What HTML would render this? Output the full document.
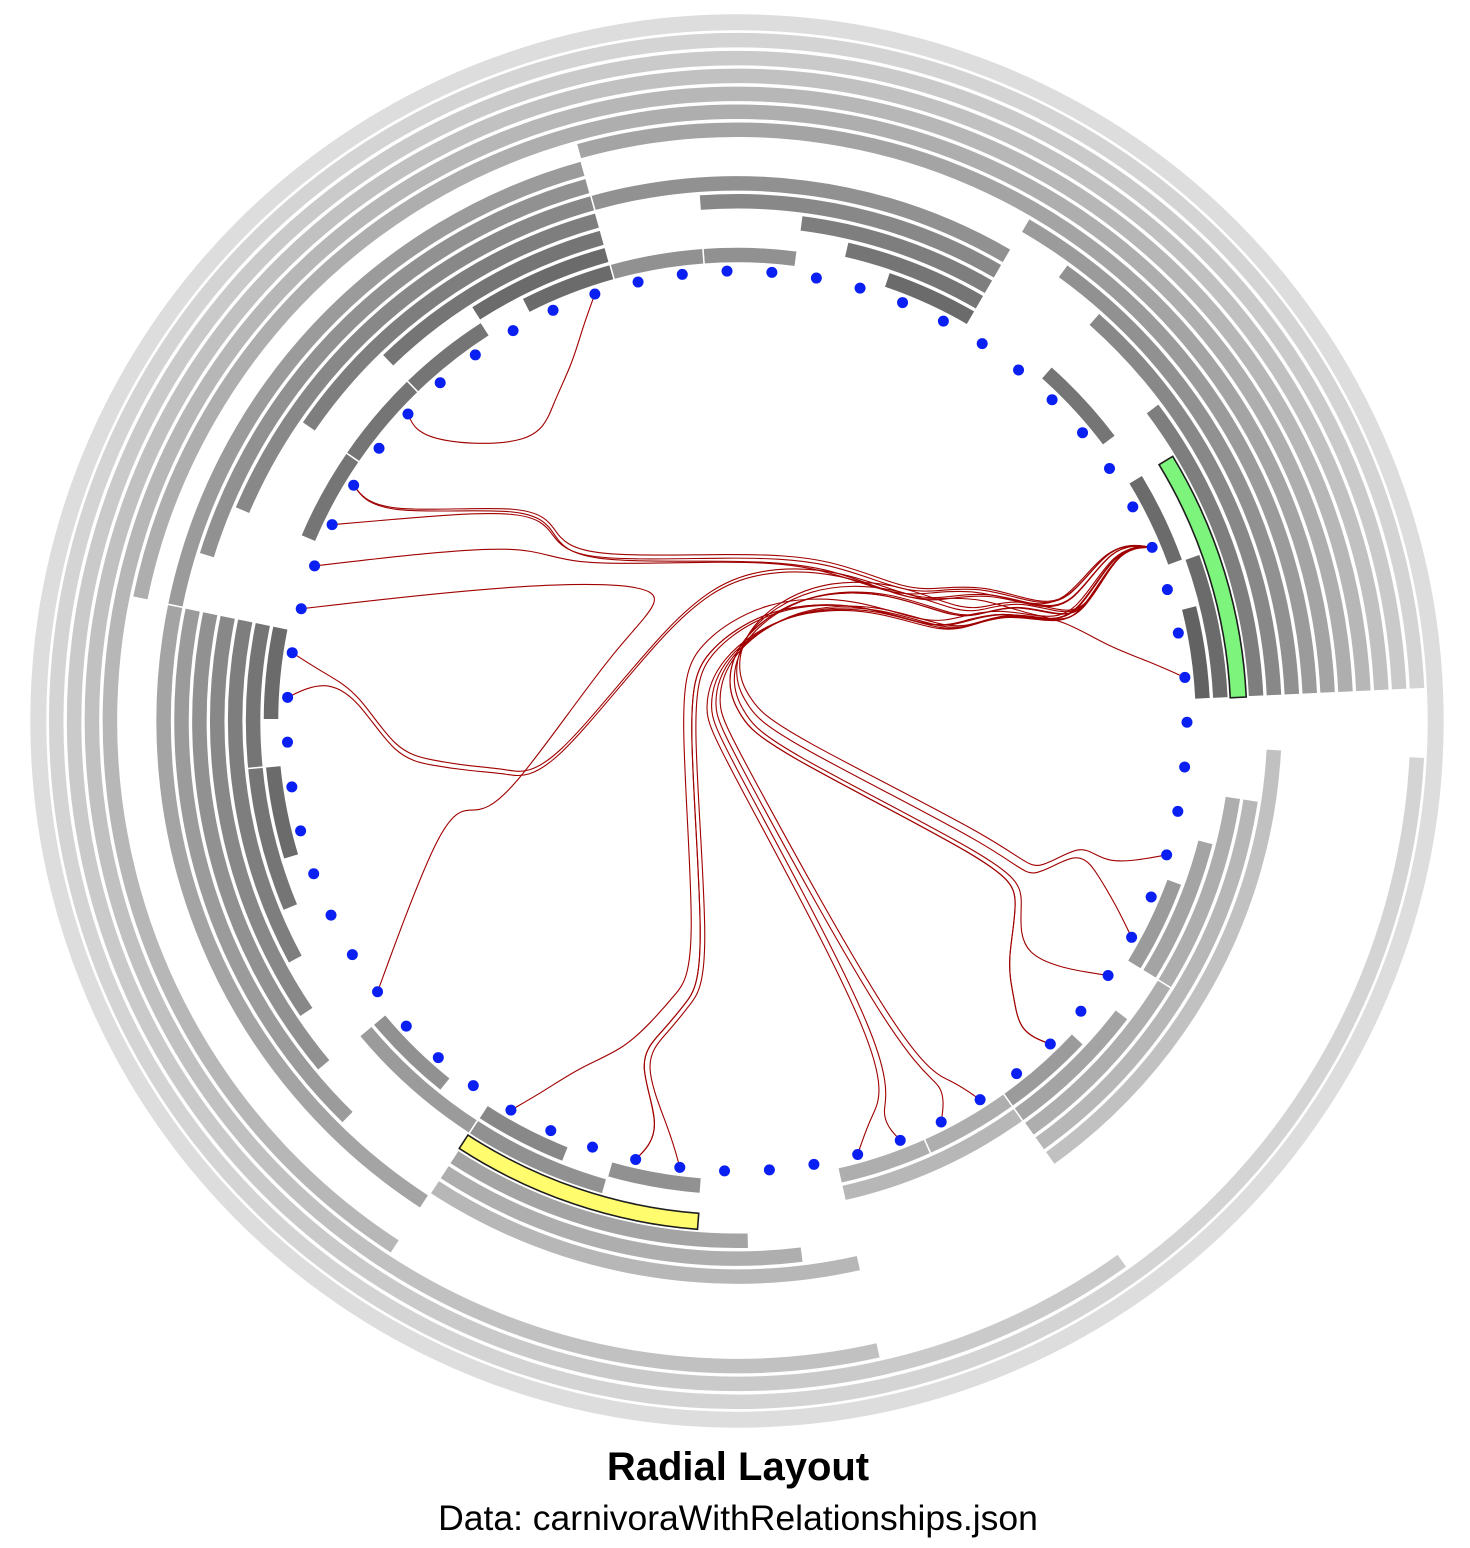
<!DOCTYPE html>
<html>
<head>
<meta charset="utf-8">
<style>
  html, body { margin: 0; padding: 0; background: #ffffff; }
  svg { display: block; }
  text { font-family: "Liberation Sans", Arial, sans-serif; }
</style>
</head>
<body>
<svg id="chart" width="1470" height="1548" viewBox="0 0 1470 1548" xmlns="http://www.w3.org/2000/svg">
  <g id="bands"></g>
  <g id="links"></g>
  <g id="dots"></g>
  <text x="738" y="1480" text-anchor="middle" font-size="40" font-weight="bold" fill="#000">Radial Layout</text>
  <text x="738" y="1530" text-anchor="middle" font-size="35.5" fill="#000">Data: carnivoraWithRelationships.json</text>
</svg>
<script>
// ---- data ----
const leafCount = 63;
// band rows: level (0 = innermost ring), first leaf, last leaf, tree depth
const bandLevels = [13,12,11,10,9,8,7, 6,5,4,3,2,1,0,0,0, 4,3,2,1,0,0,0, 6,5,4,3,2,1,0,0,0,0, 6,5,4,3,2,1,1,0,0, 5,4,3,2,1,0,0,1,0, 4,3,2,2,1,0,1,0,1,0,0];
const bandStarts = [0,17,26,30,38,50,61, 6,7,8,10,11,13,14,11,8, 61,0,2,3,4,0,61, 50,51,52,54,56,58,59,56,54,52, 38,40,41,42,43,47,44,48,45, 30,31,32,33,35,36,33,38,39, 17,18,22,18,19,20,23,24,26,26,28];
const bandEnds = [62,78,78,78,78,78,78, 15,15,15,15,15,15,15,12,9, 68,5,5,5,5,1,62, 60,60,60,60,60,60,60,57,55,53, 49,49,49,49,49,49,46,49,46, 37,37,37,37,37,37,34,40,40, 25,25,25,21,21,21,25,25,29,27,29];
const bandDepths = [0,1,2,3,4,5,6, 7,8,9,10,11,12,13,12,11, 8,9,10,11,12,8,8, 7,8,9,10,11,12,12,11,11,11, 6,7,8,9,10,11,11,12,12, 4,5,6,7,8,9,8,7,8, 3,4,5,5,6,7,6,7,4,5,5];
// selected nodes (index into band rows)
const selectedGreen = [11];
const selectedYellow = [45];
// relationships between leaves
const linkSources = [60,53,53,52,51,50,49,48,12,12,12,12,12,12,12,12,12,12,12,12,12];
const linkTargets = [55,12,15,12,12,41,12,12,37,34,34,33,29,28,27,26,19,21,22,24,24];

// ---- layout ----
const NS = "http://www.w3.org/2000/svg";
const cx = 737, cy = 721;
const dotR = 450;
const ringInner = 458, ringStep = 17.9, ringThick = 16;
const step = 360 / leafCount;
const angleOffset = -1.27;
const beta = 0.85;

function leafAngle(i) { return angleOffset + i * step; }
function boundary(i) { return angleOffset + (i - 0.5) * step; }
function pt(r, a) {
  const t = a * Math.PI / 180;
  return [cx + r * Math.sin(t), cy - r * Math.cos(t)];
}
function sector(r0, r1, a0, a1) {
  const large = (a1 - a0) > 180 ? 1 : 0;
  const p1 = pt(r1, a0), p2 = pt(r1, a1), p3 = pt(r0, a1), p4 = pt(r0, a0);
  return `M${p1[0]},${p1[1]} A${r1},${r1} 0 ${large} 1 ${p2[0]},${p2[1]} L${p3[0]},${p3[1]} A${r0},${r0} 0 ${large} 0 ${p4[0]},${p4[1]} Z`;
}
function grayFor(depth) {
  const g = Math.round(221 - 9.5 * depth);
  return `rgb(${g},${g},${g})`;
}

const bandG = document.getElementById('bands');
for (let k = 0; k < bandLevels.length; k++) {
  const lvl = bandLevels[k];
  const r0 = ringInner + ringStep * lvl, r1 = r0 + ringThick;
  const a0 = boundary(bandStarts[k]), a1 = boundary(bandEnds[k] + 1);
  let fill = grayFor(bandDepths[k]), stroke = '#ffffff', sw = 1.5;
  let name = 'hierarchy-band';
  if (a1 - a0 >= 359.9) {
    const c = document.createElementNS(NS, 'circle');
    c.setAttribute('cx', cx);
    c.setAttribute('cy', cy);
    c.setAttribute('r', (r0 + r1) / 2);
    c.setAttribute('fill', 'none');
    c.setAttribute('stroke', fill);
    c.setAttribute('stroke-width', ringThick);
    
    
    bandG.appendChild(c);
    continue;
  }
  const p = document.createElementNS(NS, 'path');
  p.setAttribute('d', sector(r0, r1, a0, a1));
  if (selectedGreen.includes(k)) { fill = '#7df57d'; stroke = '#1e1e1e'; sw = 1.6; name = 'selected-band-green'; }
  if (selectedYellow.includes(k)) { fill = '#fffc6e'; stroke = '#1e1e1e'; sw = 1.6; name = 'selected-band-yellow'; }
  p.setAttribute('fill', fill);
  p.setAttribute('stroke', stroke);
  p.setAttribute('stroke-width', sw);
  
  
  bandG.appendChild(p);
}

// ---- hierarchical edge bundling ----
function contains(k, leaf) {
  const s = bandStarts[k], e = bandEnds[k];
  return (leaf >= s && leaf <= e) || (leaf + leafCount >= s && leaf + leafCount <= e);
}
function ancestors(leaf) {
  const list = [];
  for (let k = 0; k < bandLevels.length; k++) if (contains(k, leaf)) list.push(k);
  list.sort((a, b) => bandLevels[a] - bandLevels[b]);
  return list;
}
function nodePos(k) {
  const a = (boundary(bandStarts[k]) + boundary(bandEnds[k] + 1)) / 2;
  const r = dotR * (13 - bandLevels[k]) / 14;
  return pt(r, a);
}
function basisPath(pts) {
  let d = '', x0, y0, x1, y1, p = 0;
  function bez(x, y) {
    d += ` C${(2 * x0 + x1) / 3},${(2 * y0 + y1) / 3} ${(x0 + 2 * x1) / 3},${(y0 + 2 * y1) / 3} ${(x0 + 4 * x1 + x) / 6},${(y0 + 4 * y1 + y) / 6}`;
  }
  for (const [x, y] of pts) {
    if (p === 0) { p = 1; d += `M${x},${y}`; }
    else if (p === 1) { p = 2; }
    else {
      if (p === 2) { p = 3; d += ` L${(5 * x0 + x1) / 6},${(5 * y0 + y1) / 6}`; }
      bez(x, y);
    }
    x0 = x1; x1 = x; y0 = y1; y1 = y;
  }
  if (p === 3) { bez(x1, y1); d += ` L${x1},${y1}`; }
  else if (p === 2) { d += ` L${x1},${y1}`; }
  return d;
}

const linkG = document.getElementById('links');
for (let k = 0; k < linkSources.length; k++) {
  const s = linkSources[k], t = linkTargets[k];
  const as = ancestors(s), at = ancestors(t);
  const common = as.filter(x => at.includes(x));
  const lca = common[0];
  const up = as.slice(0, as.indexOf(lca) + 1);
  const down = at.slice(0, at.indexOf(lca)).reverse();
  let pts = [pt(dotR, leafAngle(s))];
  up.forEach(b => pts.push(nodePos(b)));
  down.forEach(b => pts.push(nodePos(b)));
  pts.push(pt(dotR, leafAngle(t)));
  const n = pts.length - 1, A = pts[0], B = pts[n];
  pts = pts.map((q, j) => {
    const f = j / n;
    return [beta * q[0] + (1 - beta) * (A[0] + f * (B[0] - A[0])),
            beta * q[1] + (1 - beta) * (A[1] + f * (B[1] - A[1]))];
  });
  const p = document.createElementNS(NS, 'path');
  p.setAttribute('d', basisPath(pts));
  p.setAttribute('fill', 'none');
  p.setAttribute('stroke', '#a00000');
  p.setAttribute('stroke-width', '1.1');
  
  
  linkG.appendChild(p);
}

const dotG = document.getElementById('dots');
for (let i = 0; i < leafCount; i++) {
  const q = pt(dotR, leafAngle(i));
  const c = document.createElementNS(NS, 'circle');
  c.setAttribute('cx', q[0]);
  c.setAttribute('cy', q[1]);
  c.setAttribute('r', 5.5);
  c.setAttribute('fill', '#0a1ff2');
  
  
  dotG.appendChild(c);
}
</script>
</body>
</html>
